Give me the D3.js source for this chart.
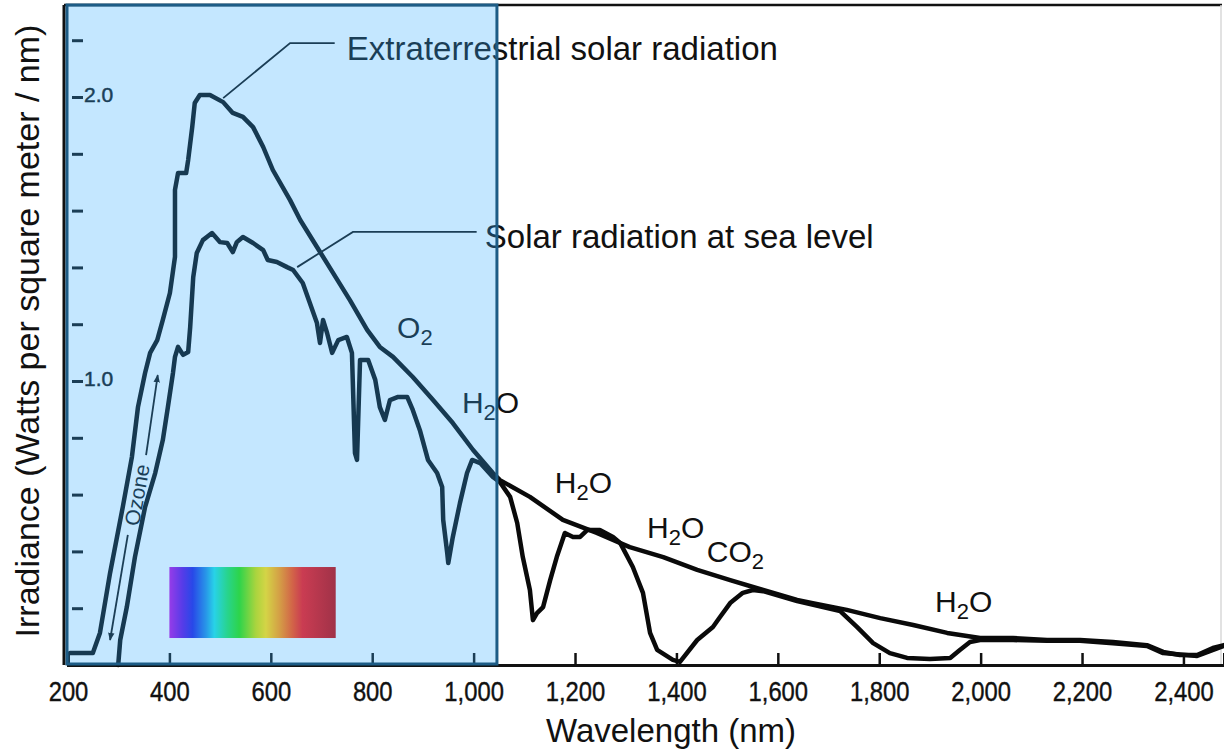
<!DOCTYPE html>
<html><head><meta charset="utf-8">
<script src="https://cdn.jsdelivr.net/npm/d3@7"></script>
<style>
html,body{margin:0;padding:0;background:#fff;}
svg{display:block;font-family:"Liberation Sans",Arial,Helvetica,sans-serif;}
</style>
</head><body>
<svg id="chart" width="1224" height="754"></svg>
<script>
// ---------- data ----------
const etWavelength = [204,249,263,283,308,326,338,352,362,376,
  387,401,411,411,417,433,437,445,450,460,
  480,506,525,545,565,585,604,638,658,691,
  723,756,790,815,841,880,920,959,999,1038,
  1052,1111,1176,1243,1308,1374,1441,1506,1571,1638,
  1669,1736,1802,1867,1934,1999,2064,2131,2196,2261,
  2328,2360,2393,2427,2458,2480];
const etIrradiance = [0.042,0.042,0.113,0.324,0.556,0.732,0.908,1.028,1.099,1.144,
  1.215,1.310,1.437,1.673,1.732,1.732,1.778,1.894,1.979,2.007,
  2.007,1.982,1.944,1.930,1.894,1.824,1.743,1.637,1.567,1.472,
  1.380,1.285,1.180,1.120,1.085,1.014,0.933,0.852,0.757,0.676,
  0.651,0.592,0.511,0.465,0.415,0.380,0.335,0.299,0.264,0.229,
  0.218,0.194,0.165,0.141,0.113,0.095,0.095,0.088,0.088,0.081,
  0.070,0.046,0.035,0.035,0.060,0.070];

const slWavelength = [299,303,316,332,352,372,387,397,407,411,
  417,427,437,441,447,454,466,484,500,514,
  525,533,545,565,585,594,612,632,644,663,
  677,691,697,703,711,721,733,750,760,766,
  770,776,792,806,815,825,835,851,869,880,
  894,910,928,938,940,948,950,959,973,987,
  997,1013,1038,1052,1072,1086,1097,1111,1117,1125,
  1137,1151,1164,1180,1196,1210,1224,1249,1275,1289,
  1314,1334,1348,1362,1393,1407,1441,1472,1486,1506,
  1531,1551,1571,1638,1723,1756,1788,1821,1855,1900,
  1940,1959,1979,1999,2064,2131,2196,2261,2328,2360,
  2427,2480];
const slIrradiance = [0,0.088,0.204,0.380,0.556,0.676,0.792,0.908,1.028,1.085,
  1.120,1.092,1.102,1.190,1.366,1.451,1.496,1.521,1.489,1.486,
  1.454,1.489,1.507,1.486,1.461,1.426,1.419,1.401,1.391,1.345,
  1.275,1.204,1.134,1.215,1.169,1.099,1.144,1.155,1.099,0.746,
  0.722,1.074,1.074,1.004,0.908,0.863,0.933,0.944,0.944,0.898,
  0.827,0.722,0.676,0.627,0.511,0.394,0.359,0.451,0.570,0.676,
  0.722,0.711,0.662,0.644,0.592,0.500,0.380,0.264,0.158,0.183,
  0.204,0.299,0.380,0.465,0.451,0.451,0.475,0.475,0.451,0.430,
  0.345,0.254,0.113,0.053,0.018,0.011,0.088,0.134,0.169,0.218,
  0.254,0.264,0.260,0.225,0.190,0.134,0.077,0.042,0.025,0.021,
  0.025,0.053,0.081,0.088,0.088,0.085,0.085,0.077,0.067,0.042,
  0.032,0.067];

const xTickValues = [200,400,600,800,1000,1200,1400,1600,1800,2000,2200,2400];
const yTickValues = [0.2,0.4,0.6,0.8,1.0,1.2,1.4,1.6,1.8,2.0,2.2];
const yLabelledTicks = [1.0, 2.0];

const gasLabelText = ["O2","H2O","H2O","H2O","CO2","H2O"];
const gasLabelWavelength = [849,977,1160,1342,1460,1910];
const gasLabelIrradiance = [1.151,0.887,0.606,0.447,0.363,0.187];

const curveLabelText = ["Extraterrestrial solar radiation","Solar radiation at sea level"];
const curveLabelWavelength = [750,1022];
const curveLabelIrradiance = [2.130,1.468];
const leaderWavelength = [[726,638,506],[1006,762,652]];
const leaderIrradiance = [[2.190,2.190,1.996],[1.525,1.525,1.401]];

const ozoneArrowWavelength = [283,318,354,377];
const ozoneArrowIrradiance = [0.088,0.458,0.739,1.021];
const ozoneLabel = {text:"Ozone", wavelength:336, irradiance:0.599};

const shadedRange = [200,1046];          // blue highlighted band (nm)
const spectrumRange = [400,728];         // visible-spectrum swatch (nm)
const spectrumLevels = [0.345,0.095];

const xTitle = "Wavelength (nm)";
const yTitle = "Irradiance (Watts per square meter / nm)";

// ---------- scales ----------
const plotLeft = 68, plotRight = 1224, plotTop = 5, plotBottom = 665;
const x = d3.scaleLinear().domain([200,2480]).range([plotLeft,plotRight]);
const y = d3.scaleLinear().domain([0,2.324]).range([plotBottom,plotTop]);

const svg = d3.select("#chart");
const defs = svg.append("defs");

// frame
svg.append("line").attr("x1",64).attr("x2",1222).attr("y1",plotTop).attr("y2",plotTop)
  .attr("stroke","#111").attr("stroke-width",2.5);
svg.append("line").attr("x1",64).attr("x2",64).attr("y1",plotTop).attr("y2",plotBottom)
  .attr("stroke","#111").attr("stroke-width",3);
svg.append("line").attr("x1",1221).attr("x2",1221).attr("y1",plotTop).attr("y2",plotBottom)
  .attr("stroke","#d8d8d8").attr("stroke-width",1.5);

// x axis
const xAxis = svg.append("g").attr("transform",`translate(0,${plotBottom})`)
  .call(d3.axisBottom(x).tickValues(xTickValues).tickSize(-12).tickPadding(16)
    .tickFormat(d3.format(",")));
xAxis.select(".domain").attr("stroke","#111").attr("stroke-width",3);
xAxis.selectAll(".tick line").attr("stroke","#111").attr("stroke-width",2.5);
xAxis.selectAll(".tick text").attr("fill","#111").attr("font-size",28)
  .attr("font-family","Liberation Sans, Arial, sans-serif")
  .attr("stroke","#111").attr("stroke-width",0.4)
  .attr("transform","scale(0.85,1)");

// y axis (inward ticks, labels inside)
const yAxis = svg.append("g").attr("transform",`translate(${plotLeft},0)`)
  .call(d3.axisRight(y).tickValues(yTickValues).tickSize(15).tickPadding(1)
    .tickFormat(d => yLabelledTicks.some(t => Math.abs(t-d) < 1e-6) ? d3.format(".1f")(d) : ""));
yAxis.select(".domain").remove();
yAxis.selectAll(".tick line").attr("stroke","#111").attr("stroke-width",3).attr("x1",4);
yAxis.selectAll(".tick text").attr("fill","#111").attr("font-size",21)
  .attr("stroke","#111").attr("stroke-width",0.5)
  .attr("font-family","Liberation Sans, Arial, sans-serif").attr("dy","0.2em");

// curves
const line = d3.line().x(d => x(d[0])).y(d => y(d[1]));
const etData = etWavelength.map((w,i) => [w, etIrradiance[i]]);
const slData = slWavelength.map((w,i) => [w, slIrradiance[i]]);
[etData, slData].forEach(data => {
  svg.append("path").datum(data).attr("d",line).attr("fill","none")
    .attr("stroke","#0a0a0a").attr("stroke-width",4.5)
    .attr("stroke-linejoin","round").attr("stroke-linecap","round");
});

// leader lines
leaderWavelength.forEach((ws,i) => {
  const pts = ws.map((w,j) => [w, leaderIrradiance[i][j]]);
  svg.append("path").datum(pts).attr("d",line).attr("fill","none")
    .attr("stroke","#111").attr("stroke-width",1.8);
});

// curve labels
curveLabelText.forEach((t,i) => {
  svg.append("text").attr("x",x(curveLabelWavelength[i])).attr("y",y(curveLabelIrradiance[i]))
    .attr("font-size",33).attr("fill","#111").text(t);
});

// gas labels with subscripts
gasLabelText.forEach((t,i) => {
  const txt = svg.append("text").attr("x",x(gasLabelWavelength[i])).attr("y",y(gasLabelIrradiance[i]))
    .attr("font-size",30).attr("fill","#111");
  let sub = false;
  for (const ch of t) {
    const isDigit = /[0-9]/.test(ch);
    if (isDigit && !sub) { txt.append("tspan").attr("font-size",22).attr("dy",7).text(ch); sub = true; }
    else if (!isDigit && sub) { txt.append("tspan").attr("font-size",30).attr("dy",-7).text(ch); sub = false; }
    else txt.append("tspan").attr("font-size", isDigit ? 22 : 30).text(ch);
  }
});

// ozone arrow
defs.append("marker").attr("id","arrow").attr("viewBox","0 0 10 10").attr("refX",9).attr("refY",5)
  .attr("markerWidth",8).attr("markerHeight",8).attr("orient","auto-start-reverse")
  .attr("markerUnits","userSpaceOnUse")
  .append("path").attr("d","M0,1 L10,5 L0,9 Z").attr("fill","#111");
svg.append("line")
  .attr("x1",x(ozoneArrowWavelength[0])).attr("y1",y(ozoneArrowIrradiance[0]))
  .attr("x2",x(ozoneArrowWavelength[1])).attr("y2",y(ozoneArrowIrradiance[1]))
  .attr("stroke","#111").attr("stroke-width",1.8).attr("marker-start","url(#arrow)");
svg.append("line")
  .attr("x1",x(ozoneArrowWavelength[2])).attr("y1",y(ozoneArrowIrradiance[2]))
  .attr("x2",x(ozoneArrowWavelength[3])).attr("y2",y(ozoneArrowIrradiance[3]))
  .attr("stroke","#111").attr("stroke-width",1.8).attr("marker-end","url(#arrow)");
const ozAngle = Math.atan2(y(ozoneArrowIrradiance[3]) - y(ozoneArrowIrradiance[0]),
                           x(ozoneArrowWavelength[3]) - x(ozoneArrowWavelength[0])) * 180 / Math.PI;
svg.append("text")
  .attr("transform",`translate(${x(ozoneLabel.wavelength)},${y(ozoneLabel.irradiance)}) rotate(${ozAngle})`)
  .attr("text-anchor","middle").attr("dominant-baseline","central")
  .attr("font-size",21).attr("fill","#111").text(ozoneLabel.text);

// blue highlight overlay
const bx0 = x(shadedRange[0]) - 1, bx1 = x(shadedRange[1]);
svg.append("rect").attr("x",bx0).attr("y",plotTop).attr("width",bx1-bx0).attr("height",plotBottom-1-plotTop)
  .attr("fill","rgb(52,172,255)").attr("fill-opacity",0.29);
svg.append("rect").attr("x",bx0).attr("y",plotTop).attr("width",bx1-bx0).attr("height",plotBottom-1-plotTop)
  .attr("fill","none").attr("stroke","#1d5c86").attr("stroke-width",3);

// visible spectrum swatch
const grad = defs.append("linearGradient").attr("id","spec").attr("x1","0%").attr("x2","100%");
[[0,"rgb(150,60,232)"],[8,"rgb(85,60,232)"],[14,"rgb(40,72,232)"],[22,"rgb(40,150,232)"],
 [27,"rgb(40,210,232)"],[35,"rgb(40,212,140)"],[42,"rgb(45,212,75)"],[52,"rgb(170,212,62)"],
 [58,"rgb(212,212,70)"],[66,"rgb(212,160,70)"],[74,"rgb(210,100,72)"],[80,"rgb(202,60,82)"],
 [100,"rgb(160,50,72)"]].forEach(s => grad.append("stop").attr("offset",s[0]+"%").attr("stop-color",s[1]));
svg.append("rect").attr("x",x(spectrumRange[0])).attr("y",y(spectrumLevels[0]))
  .attr("width",x(spectrumRange[1])-x(spectrumRange[0])).attr("height",y(spectrumLevels[1])-y(spectrumLevels[0]))
  .attr("fill","url(#spec)");

// axis titles
svg.append("text").attr("x",(plotLeft+plotRight)/2+25).attr("y",742).attr("text-anchor","middle")
  .attr("font-size",33).attr("fill","#111").text(xTitle);
svg.append("text").attr("transform","translate(39,331) rotate(-90)").attr("text-anchor","middle")
  .attr("font-size",34).attr("fill","#111").text(yTitle);
</script>
</body></html>
